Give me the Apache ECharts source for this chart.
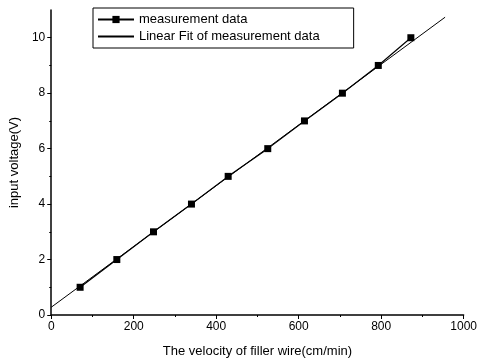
<!DOCTYPE html>
<html>
<head>
<meta charset="utf-8">
<script src="https://cdn.jsdelivr.net/npm/echarts@6/dist/echarts.min.js"></script>
<style>
  html, body { margin: 0; padding: 0; background: #fff; }
  #chart { width: 480px; height: 363px; }
</style>
</head>
<body>
<div id="chart"></div>
<script>
// measured points
var velocity = [70, 159, 248, 340, 429, 525, 614, 706, 793, 872];
var voltage = [1, 2, 3, 4, 5, 6, 7, 8, 9, 10];
// linear fit end points
var fitX = [0, 955];
var fitY = [0.28, 10.74];
var yTicks = [0, 2, 4, 6, 8, 10];

var chart = echarts.init(document.getElementById('chart'));
var font = 'Arial, "Liberation Sans", sans-serif';

var option = {
  animation: false,
  backgroundColor: '#fff',
  grid: { left: 51, right: 14, top: 10, bottom: 48 },
  legend: {
    orient: 'vertical',
    left: 93,
    top: 8,
    padding: [5, 34, 5, 4],
    itemGap: 4,
    itemWidth: 36,
    itemHeight: 9,
    borderColor: '#000',
    borderWidth: 1,
    textStyle: { color: '#000', fontSize: 13, fontFamily: font },
    data: [
      { name: 'measurement data' },
      { name: 'Linear Fit of measurement data', itemStyle: { opacity: 0 } }
    ]
  },
  xAxis: {
    type: 'value',
    min: 0,
    max: 1000,
    interval: 200,
    name: 'The velocity of filler wire(cm/min)',
    nameLocation: 'middle',
    nameGap: 30,
    nameTextStyle: { color: '#000', fontSize: 13, fontFamily: font },
    axisLine: { lineStyle: { color: '#000', width: 1.5 } },
    axisTick: { length: 4, lineStyle: { color: '#000' } },
    minorTick: { show: true, splitNumber: 2, length: 2, lineStyle: { color: '#000' } },
    splitLine: { show: false },
    axisLabel: {
      color: '#000', fontSize: 12, fontFamily: font, margin: 6,
      formatter: function (v) { return String(v); }
    }
  },
  yAxis: {
    type: 'value',
    min: 0,
    max: 11,
    interval: 2,
    name: 'input voltage(V)',
    nameLocation: 'middle',
    nameGap: 30,
    nameTextStyle: { color: '#000', fontSize: 13, fontFamily: font },
    axisLine: { show: true, lineStyle: { color: '#000', width: 1.5 } },
    axisTick: { show: true, length: 4, customValues: yTicks, lineStyle: { color: '#000' } },
    minorTick: { show: true, splitNumber: 2, length: 2, lineStyle: { color: '#000' } },
    splitLine: { show: false },
    axisLabel: { color: '#000', fontSize: 12, fontFamily: font, margin: 6, customValues: yTicks }
  },
  series: [
    {
      name: 'measurement data',
      type: 'line',
      data: velocity.map(function (v, i) { return [v, voltage[i]]; }),
      symbol: 'rect',
      symbolSize: 7,
      itemStyle: { color: '#000' },
      lineStyle: { color: '#000', width: 1.2 },
      z: 3
    },
    {
      name: 'Linear Fit of measurement data',
      type: 'line',
      data: fitX.map(function (v, i) { return [v, fitY[i]]; }),
      symbol: 'none',
      itemStyle: { color: '#000' },
      lineStyle: { color: '#000', width: 1 },
      z: 2
    }
  ]
};

chart.setOption(option);
</script>
</body>
</html>
